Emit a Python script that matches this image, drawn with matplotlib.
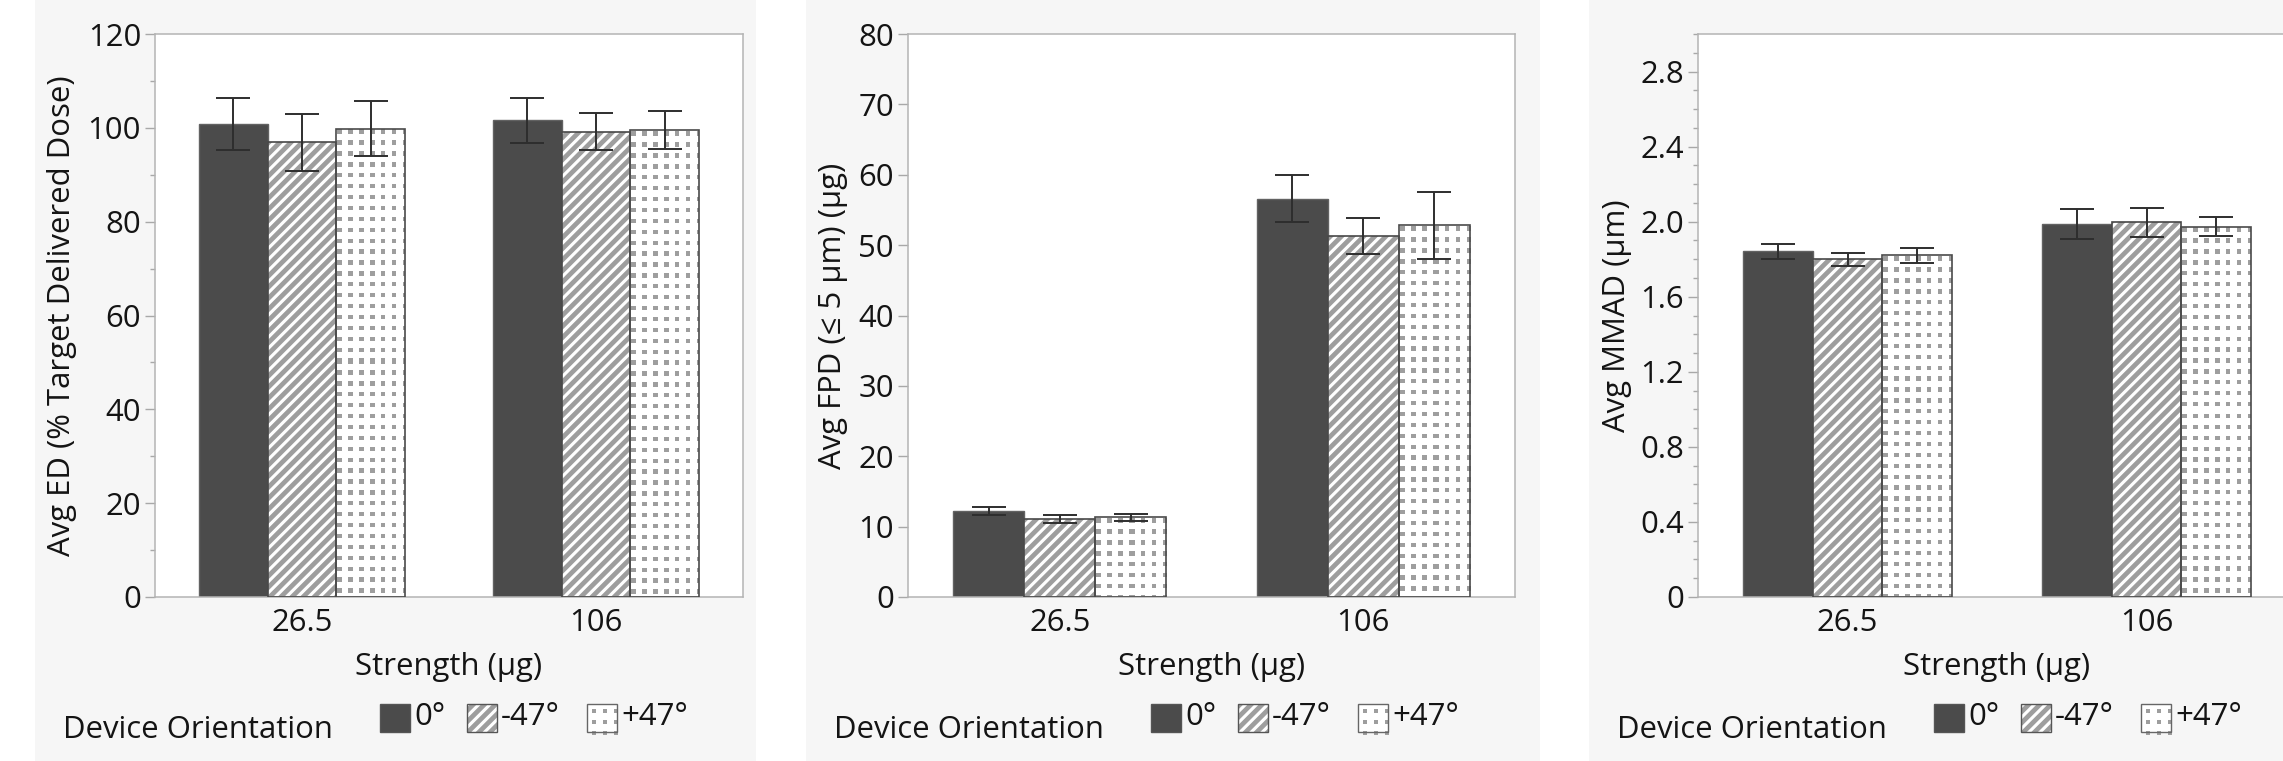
import numpy as np
import matplotlib
matplotlib.use("Agg")
import matplotlib.pyplot as plt
from matplotlib.patches import Rectangle
from matplotlib.ticker import MultipleLocator, FuncFormatter

plt.rcParams['font.family'] = ['Open Sans', 'DejaVu Sans']
plt.rcParams['hatch.linewidth'] = 3.4

# data
strengths = ["26.5", "106"]
orientations = ["0°", "-47°", "+47°"]

ed_mean = [[100.8, 101.6], [96.9, 99.2], [99.8, 99.5]]
ed_err = [[5.5, 4.85], [6.05, 3.9], [5.9, 4.1]]

fpd_mean = [[12.2, 56.6], [11.1, 51.3], [11.3, 52.8]]
fpd_err = [[0.6, 3.35], [0.55, 2.6], [0.45, 4.8]]

mmad_mean = [[1.843, 1.988], [1.799, 1.996], [1.820, 1.973]]
mmad_err = [[0.040, 0.080], [0.036, 0.076], [0.040, 0.050]]

W, H = 2283, 761
TXT = '#141414'
DARK = '#4b4b4b'
STRIPE = '#9e9e9e'
DOT = (0.62, 0.62, 0.62)
FS = 22.4

fig = plt.figure(figsize=(W / 100, H / 100), dpi=100)
bg = fig.add_axes([0, 0, 1, 1], zorder=-10)
bg.set_xlim(0, W)
bg.set_ylim(H, 0)
bg.axis('off')


def dots(w, h, period=10.9, size=4.3):
    cols = np.arange(w)
    rows = np.arange(h)
    cm = ((cols - 1) % period) < size
    rm = ((rows - 1) % period) < size
    img = np.zeros((h, w, 4))
    img[rm[:, None] & cm[None, :]] = (*DOT, 1.0)
    return img


def fmt_mmad(v, pos):
    return '0' if abs(v) < 1e-9 else '%.1f' % v


panels = [
    dict(gray=(35, 756), ax=(155, 743), mean=ed_mean, err=ed_err,
         ymax=120, major=20, minor=10, fmt=None, ylx=62,
         ylabel="Avg ED (% Target Delivered Dose)"),
    dict(gray=(806, 1540), ax=(908, 1515), mean=fpd_mean, err=fpd_err,
         ymax=80, major=10, minor=None, fmt=None, ylx=833,
         ylabel="Avg FPD (\u2264 5 \u00b5m) (\u00b5g)"),
    dict(gray=(1589, W + 5), ax=(1698, 2296), mean=mmad_mean, err=mmad_err,
         ymax=3.0, major=0.4, minor=0.1, fmt=fmt_mmad, ylx=1617,
         ylabel="Avg MMAD (\u00b5m)"),
]

AX_TOP, AX_BOT = 34, 597
bw = 0.234
x = np.arange(len(strengths))

for p in panels:
    g0, g1 = p['gray']
    bg.add_patch(Rectangle((g0, 0), g1 - g0, H, facecolor='#f6f6f6',
                           edgecolor='none'))
    l, r = p['ax']
    ax = fig.add_axes([l / W, (H - AX_BOT) / H, (r - l) / W,
                       (AX_BOT - AX_TOP) / H])
    ax.set_facecolor('white')
    ax.set_xlim(-0.5, len(strengths) - 0.5)
    ax.set_ylim(0, p['ymax'])

    mean, err = p['mean'], p['err']
    pos0 = x - bw
    pos1 = x
    pos2 = x + bw
    ax.bar(pos0, mean[0], bw, color=DARK, edgecolor='#626262',
           linewidth=1.0, zorder=2)
    ax.bar(pos1, mean[1], bw, color='white', edgecolor=STRIPE,
           hatch='///', linewidth=0, zorder=2)
    ax.bar(pos1, mean[1], bw, fill=False, edgecolor='#484848',
           linewidth=1.2, zorder=3)
    ax.bar(pos2, mean[2], bw, color='white', edgecolor='none',
           linewidth=0, zorder=2)
    # dotted texture for the third series
    fig.canvas.draw()
    for xc, m in zip(pos2, mean[2]):
        (px0, py0), (px1, py1) = ax.transData.transform(
            [(xc - bw / 2, 0), (xc + bw / 2, m)])
        img = dots(int(round(px1 - px0)), int(round(py1 - py0)))
        ax.imshow(img, extent=(xc - bw / 2, xc + bw / 2, 0, m),
                  origin='upper', interpolation='nearest', aspect='auto',
                  zorder=2.5)
    ax.bar(pos2, mean[2], bw, fill=False, edgecolor='#4a4a4a',
           linewidth=1.2, zorder=3)

    for pos, mm, ee in zip([pos0, pos1, pos2], mean, err):
        ax.errorbar(pos, mm, yerr=ee, fmt='none', ecolor='#2e2e2e',
                    elinewidth=1.4, capsize=12, capthick=1.4, zorder=4)

    ax.set_xlim(-0.5, len(strengths) - 0.5)
    ax.set_ylim(0, p['ymax'])
    ax.set_xticks(x)
    ax.set_xticklabels(strengths)
    ax.yaxis.set_major_locator(MultipleLocator(p['major']))
    if p['minor']:
        ax.yaxis.set_minor_locator(MultipleLocator(p['minor']))
    if p['fmt']:
        ax.yaxis.set_major_formatter(FuncFormatter(p['fmt']))
    for s in ax.spines.values():
        s.set_color('#b4b4b4')
        s.set_linewidth(1.1)
    ax.tick_params(axis='x', length=0, pad=8, labelsize=FS, labelcolor=TXT)
    ax.tick_params(axis='y', which='major', length=7, width=1,
                   color='#a8a8a8', pad=3, labelsize=FS, labelcolor=TXT)
    ax.tick_params(axis='y', which='minor', length=3.6, width=1,
                   color='#a8a8a8')

    bg.text((l + r) / 2, 667, "Strength (\u00b5g)", ha='center',
            va='center', fontsize=FS, color=TXT)
    bg.text(p['ylx'], (AX_TOP + AX_BOT) / 2, p['ylabel'], rotation=90,
            ha='center', va='center', fontsize=FS, color=TXT)

    # legend row
    bg.text(g0 + 28, 730, "Device Orientation", ha='left', va='center',
            fontsize=FS, color=TXT)
    offs = [345, 432, 552]
    for k, (o, name) in enumerate(zip(offs, orientations)):
        lx = g0 + o
        if k == 0:
            bg.add_patch(Rectangle((lx, 704), 30, 28, facecolor=DARK,
                                   edgecolor='#555555', linewidth=1.0))
        elif k == 1:
            bg.add_patch(Rectangle((lx, 704), 30, 28, facecolor='white',
                                   edgecolor=STRIPE, hatch='///',
                                   linewidth=0))
            bg.add_patch(Rectangle((lx, 704), 30, 28, fill=False,
                                   edgecolor='#555555', linewidth=1.0))
        else:
            bg.add_patch(Rectangle((lx, 704), 30, 28, facecolor='white',
                                   edgecolor='none'))
            bg.imshow(dots(30, 28, size=4.0),
                      extent=(lx + 4, lx + 34, 736, 708), origin='upper',
                      interpolation='nearest', aspect='auto', zorder=2)
            bg.add_patch(Rectangle((lx, 704), 30, 28, facecolor='none',
                                   edgecolor='#666666', linewidth=1.0,
                                   zorder=3))
        bg.text(lx + 34, 717, name, ha='left', va='center', fontsize=FS,
                color=TXT)

bg.set_xlim(0, W)
bg.set_ylim(H, 0)

fig.savefig("out.png", dpi=100, facecolor='white')
